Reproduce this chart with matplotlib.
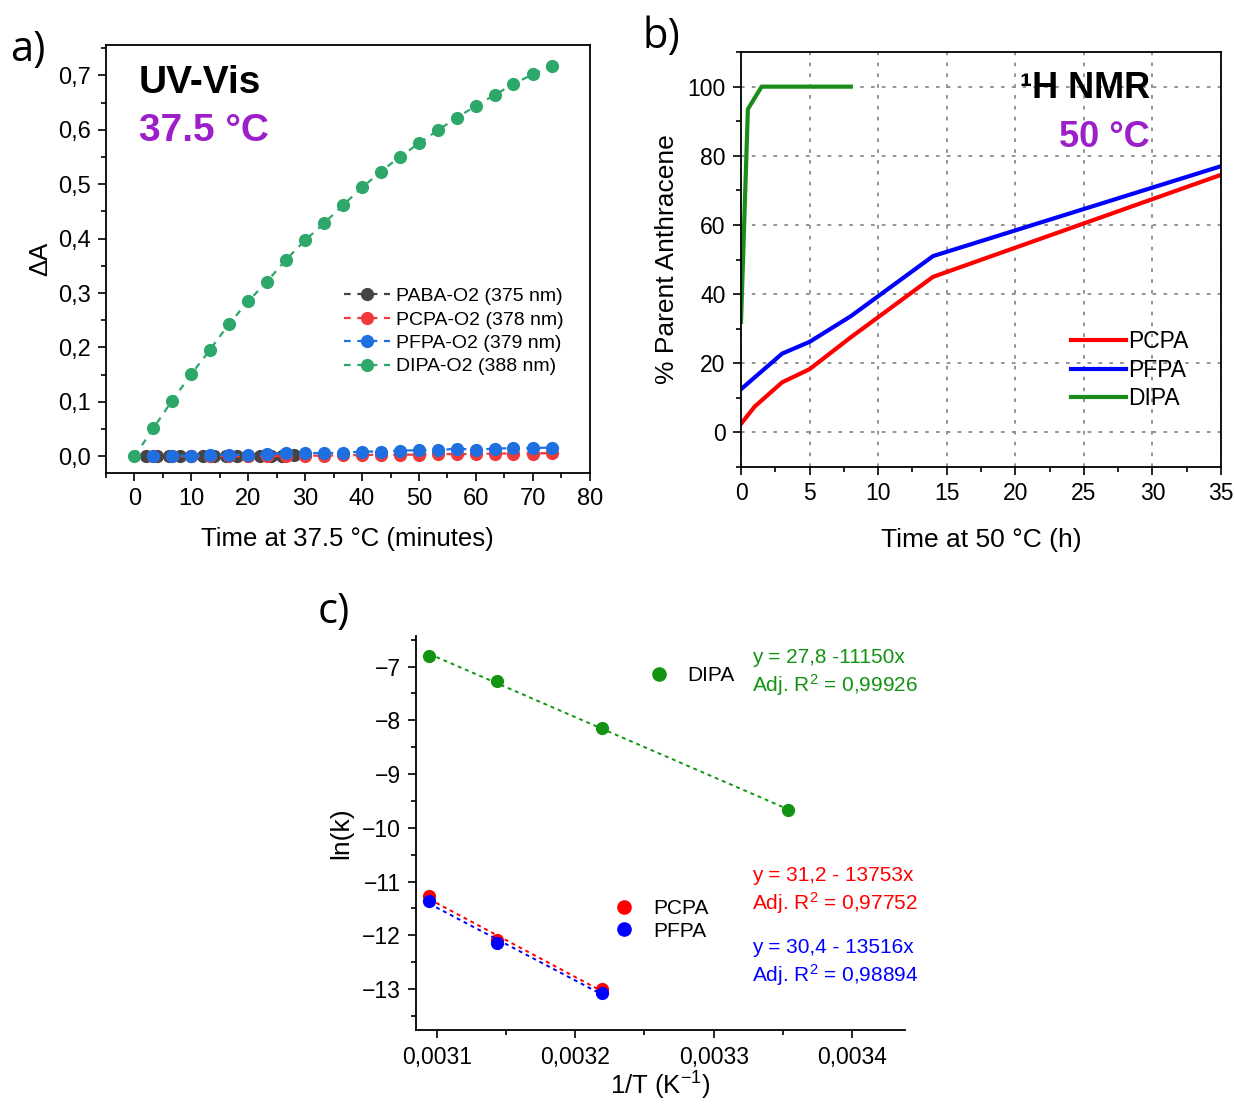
import numpy as np
import matplotlib
matplotlib.use("Agg")
import matplotlib.pyplot as plt
from matplotlib.lines import Line2D
from matplotlib.ticker import FuncFormatter, MultipleLocator

plt.rcParams["font.family"] = ["Liberation Sans", "DejaVu Sans"]
plt.rcParams["mathtext.fontset"] = "custom"
plt.rcParams["mathtext.rm"] = "Liberation Sans"
plt.rcParams["mathtext.it"] = "Liberation Sans:italic"
plt.rcParams["mathtext.bf"] = "Liberation Sans:bold"

# ---- panel a: UV-Vis at 37.5 C ----
t_paba = [2, 4, 6, 8, 10, 12, 14, 16, 18, 20, 22, 24, 26, 28]
dA_paba = [0, 0, 0, 0, 0, 0, 0, 0, 0, 0.001, 0, 0.001, 0.001, 0.002]
t_scan = [3.3, 6.6, 10, 13.3, 16.6, 20, 23.3, 26.6, 30, 33.3, 36.6, 40,
          43.3, 46.6, 50, 53.3, 56.6, 60, 63.3, 66.6, 70, 73.3]
dA_pcpa = [0, 0, 0, 0, 0, 0, 0, 0, 0.001, 0.001, 0.002, 0.002, 0.003, 0.003,
           0.003, 0.004, 0.004, 0.004, 0.005, 0.005, 0.005, 0.006]
dA_pfpa = [0.001, 0.001, 0.001, 0.0025, 0.0025, 0.003, 0.0037, 0.0055, 0.0055,
           0.006, 0.006, 0.0086, 0.0086, 0.0104, 0.011, 0.011, 0.014, 0.012,
           0.014, 0.015, 0.015, 0.016]
t_dipa = [0] + t_scan
dA_dipa = [0, 0.051, 0.102, 0.151, 0.196, 0.243, 0.285, 0.321, 0.361, 0.397,
           0.428, 0.461, 0.494, 0.523, 0.550, 0.575, 0.599, 0.622, 0.644,
           0.664, 0.684, 0.702, 0.717]
uv_labels = ["PABA-O2 (375 nm)", "PCPA-O2 (378 nm)", "PFPA-O2 (379 nm)",
             "DIPA-O2 (388 nm)"]
uv_colors = ["#444444", "#f03a3a", "#1f6fe0", "#2ea86a"]

# ---- panel b: 1H NMR at 50 C ----
h_pcpa = [0, 1, 3, 5, 8, 14, 35]
pct_pcpa = [2.5, 7.5, 14.5, 18.3, 27.5, 45, 74.5]
h_pfpa = [0, 3, 5, 8, 14, 35]
pct_pfpa = [12.5, 22.8, 26.2, 33.6, 51, 77]
h_dipa = [0, 0.5, 1.5, 8]
pct_dipa = [32, 93.5, 100, 100]

# ---- panel c: Arrhenius ----
invT_dipa = [0.0030945, 0.0031432, 0.0032190, 0.0033540]
lnk_dipa = [-6.80, -7.27, -8.14, -9.67]
invT_pc = [0.0030945, 0.0031432, 0.0032190]
lnk_pcpa = [-11.27, -12.09, -13.00]
lnk_pfpa = [-11.37, -12.14, -13.07]
fit_text = {
    "DIPA": ("y = 27,8 -11150x", "Adj. R$^2$ = 0,99926"),
    "PCPA": ("y = 31,2 - 13753x", "Adj. R$^2$ = 0,97752"),
    "PFPA": ("y = 30,4 - 13516x", "Adj. R$^2$ = 0,98894"),
}

purple = "#9c1fc9"
comma = lambda fmt: FuncFormatter(lambda v, p: fmt.format(v).replace(".", ",").replace("-", "\u2212"))


def style_ticks(ax, size):
    ax.tick_params(which="both", direction="out", top=False, right=False,
                   labelsize=size, width=1.2)
    ax.tick_params(which="major", length=6, pad=5)
    ax.tick_params(which="minor", length=3.5)
    for s in ax.spines.values():
        s.set_linewidth(1.3)


fig = plt.figure(figsize=(12.34, 11.08), dpi=100)

# panel a
ax1 = fig.add_axes([0.0859, 0.573, 0.392, 0.386])
series = [(t_paba, dA_paba), (t_scan, dA_pcpa), (t_scan, dA_pfpa), (t_dipa, dA_dipa)]
for (x, y), lab, col in zip(series, uv_labels, uv_colors):
    ax1.plot(x, y, linestyle=(0, (3, 3)), color=col, lw=1.6, marker="o",
             markersize=9.5, markeredgewidth=0, label=lab)
ax1.set_xlim(-5, 80)
ax1.set_ylim(-0.031, 0.755)
ax1.xaxis.set_major_locator(MultipleLocator(10))
ax1.xaxis.set_minor_locator(MultipleLocator(5))
ax1.yaxis.set_major_locator(MultipleLocator(0.1))
ax1.yaxis.set_minor_locator(MultipleLocator(0.05))
ax1.yaxis.set_major_formatter(comma("{:.1f}"))
style_ticks(ax1, 17)
ax1.set_xlabel("Time at 37.5 °C (minutes)", fontsize=18.5, labelpad=12)
ax1.set_ylabel("ΔA", fontsize=18.5, labelpad=4)
ax1.legend(loc="upper left", bbox_to_anchor=(0.455, 0.475), frameon=False,
           fontsize=14, handlelength=2.4, handletextpad=0.3, labelspacing=0.3)
ax1.text(0.068, 0.911, "UV-Vis", transform=ax1.transAxes, fontsize=28,
         fontweight="bold", va="center")
ax1.text(0.068, 0.80, "37.5 °C", transform=ax1.transAxes, fontsize=28,
         fontweight="bold", color=purple, va="center")

# panel b
ax2 = fig.add_axes([0.6005, 0.5785, 0.389, 0.3745])
ax2.plot(h_pcpa, pct_pcpa, color="#ff0000", lw=3, label="PCPA")
ax2.plot(h_pfpa, pct_pfpa, color="#0000ff", lw=3, label="PFPA")
ax2.plot(h_dipa, pct_dipa, color="#1a8c1a", lw=3, label="DIPA")
ax2.set_xlim(0, 35)
ax2.set_ylim(-10, 110)
ax2.xaxis.set_major_locator(MultipleLocator(5))
ax2.xaxis.set_minor_locator(MultipleLocator(2.5))
ax2.yaxis.set_major_locator(MultipleLocator(20))
ax2.yaxis.set_minor_locator(MultipleLocator(10))
ax2.grid(True, which="major", color="#8a8a8a", linestyle=(0, (2, 4)), lw=1.3)
ax2.set_axisbelow(True)
style_ticks(ax2, 16.5)
ax2.set_xlabel("Time at 50 °C (h)", fontsize=19, labelpad=16)
ax2.set_ylabel("% Parent Anthracene", fontsize=19, labelpad=6)
ax2.legend(loc="upper left", bbox_to_anchor=(0.645, 0.38), frameon=False,
           fontsize=16.5, handlelength=2.4, handletextpad=0.1, labelspacing=0.25)
ax2.text(0.852, 0.913, "¹H NMR", transform=ax2.transAxes, fontsize=26,
         fontweight="bold", ha="right", va="center")
ax2.text(0.852, 0.795, "50 °C", transform=ax2.transAxes, fontsize=26,
         fontweight="bold", color=purple, ha="right", va="center")

# panel c
ax3 = fig.add_axes([0.337, 0.0700, 0.396, 0.356])
c_green, c_red, c_blue = "#129412", "#ff0000", "#0000ff"
for x, y, col in [(invT_dipa, lnk_dipa, c_green), (invT_pc, lnk_pcpa, c_red),
                  (invT_pc, lnk_pfpa, c_blue)]:
    k, b = np.polyfit(x, y, 1)
    xs = np.array([x[0], x[-1]])
    ax3.plot(xs, k * xs + b, color=col, lw=1.4, linestyle=(0, (2, 2)))
    ax3.plot(x, y, "o", color=col, markersize=9.5, markeredgewidth=0)
ax3.set_xlim(0.0030848, 0.0034379)
ax3.set_ylim(-13.77, -6.43)
ax3.xaxis.set_major_locator(MultipleLocator(0.0001))
ax3.xaxis.set_minor_locator(MultipleLocator(0.00005))
ax3.xaxis.set_major_formatter(comma("{:.4f}"))
ax3.yaxis.set_major_locator(MultipleLocator(1))
ax3.yaxis.set_minor_locator(MultipleLocator(0.5))
ax3.yaxis.set_major_formatter(comma("{:.0f}"))
ax3.spines["top"].set_visible(False)
ax3.spines["right"].set_visible(False)
style_ticks(ax3, 16.5)
ax3.set_xlabel("1/T (K$^{-1}$)", fontsize=18.5, labelpad=1)
ax3.set_ylabel("ln(k)", fontsize=19, labelpad=6)

dot = lambda col: Line2D([], [], ls="none", marker="o", color=col, markersize=9.5)
leg1 = ax3.legend([dot(c_green)], ["DIPA"], loc="center left",
                  bbox_to_anchor=(0.437, 0.90), frameon=False, fontsize=15,
                  handlelength=1.0, handletextpad=0.9)
ax3.add_artist(leg1)
ax3.legend([dot(c_red), dot(c_blue)], ["PCPA", "PFPA"], loc="center left",
           bbox_to_anchor=(0.366, 0.28), frameon=False, fontsize=15,
           handlelength=1.0, handletextpad=0.9, labelspacing=0.15)
for name, col, y0 in [("DIPA", c_green, 0.945), ("PCPA", c_red, 0.393),
                      ("PFPA", c_blue, 0.21)]:
    l1, l2 = fit_text[name]
    ax3.text(0.687, y0, l1, transform=ax3.transAxes, color=col, fontsize=15, va="center")
    ax3.text(0.687, y0 - 0.07, l2, transform=ax3.transAxes, color=col, fontsize=15, va="center")

# panel letters
for x, y, s in [(0.008, 0.955, "a)"), (0.521, 0.967, "b)"), (0.257, 0.448, "c)")]:
    fig.text(x, y, s, fontsize=30, family=["Open Sans", "DejaVu Sans"], va="center")

fig.savefig("out.png", dpi=100)
